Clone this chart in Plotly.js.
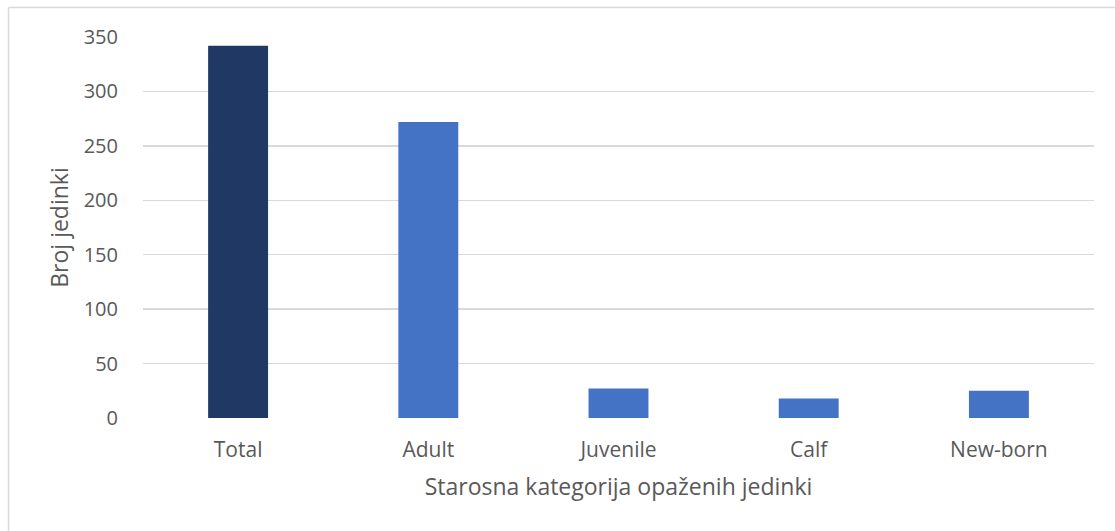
<!DOCTYPE html>
<html>
<head>
<meta charset="utf-8">
<script src="https://cdn.plot.ly/plotly-3.0.1.min.js"></script>
<style>
  html, body { margin: 0; padding: 0; background: #ffffff; }
  #chart { width: 1115px; height: 531px; }
</style>
</head>
<body>
<div id="chart"></div>
<script>
const categories = ['Total', 'Adult', 'Juvenile', 'Calf', 'New-born'];
const counts = [342, 272, 27, 18, 25];
const barColors = ['#203864', '#4472C4', '#4472C4', '#4472C4', '#4472C4'];
const yTickValues = [0, 50, 100, 150, 200, 250, 300, 350];

const W = 1115, H = 531;
const mL = 143, mR = 21, mT = 37, mB = 113;
const plotW = W - mL - mR, plotH = H - mT - mB;
const px = p => (p - mL) / plotW;
const py = p => (H - mB - p) / plotH;

const trace = {
  type: 'bar',
  x: categories,
  y: counts,
  marker: { color: barColors, line: { width: 0 } },
  hoverinfo: 'x+y'
};

const layout = {
  width: W,
  height: H,
  margin: { l: mL, r: mR, t: mT, b: mB, pad: 0 },
  paper_bgcolor: '#ffffff',
  plot_bgcolor: '#ffffff',
  showlegend: false,
  bargap: 0.685,
  font: { family: '"Open Sans", "Noto Sans", sans-serif', color: '#595959' },
  xaxis: {
    type: 'category',
    showgrid: false,
    zeroline: false,
    showline: false,
    ticks: 'outside',
    ticklen: 13,
    tickcolor: 'rgba(0,0,0,0)',
    tickfont: { size: 21, color: '#595959' },
    title: { text: 'Starosna kategorija opaženih jedinki', font: { size: 23, color: '#595959' }, standoff: 16 }
  },
  yaxis: {
    range: [0, 350],
    tickvals: yTickValues,
    ticktext: yTickValues.map(String),
    showgrid: true,
    gridcolor: '#d9d9d9',
    gridwidth: 1.3,
    zeroline: false,
    showline: false,
    ticks: 'outside',
    ticklen: 20,
    tickcolor: 'rgba(0,0,0,0)',
    tickfont: { size: 20, color: '#595959' },
    title: { text: 'Broj jedinki', font: { size: 23, color: '#595959' }, standoff: 8 }
  },
  shapes: [
    { type: 'line', xref: 'paper', yref: 'paper', x0: px(8.5), x1: px(1120), y0: py(7.5), y1: py(7.5), line: { color: '#d9d9d9', width: 1.5 } },
    { type: 'line', xref: 'paper', yref: 'paper', x0: px(8.5), x1: px(8.5), y0: py(7.5), y1: py(540), line: { color: '#d9d9d9', width: 1.5 } }
  ]
};

Plotly.newPlot('chart', [trace], layout, { staticPlot: true, displayModeBar: false });
</script>
</body>
</html>
